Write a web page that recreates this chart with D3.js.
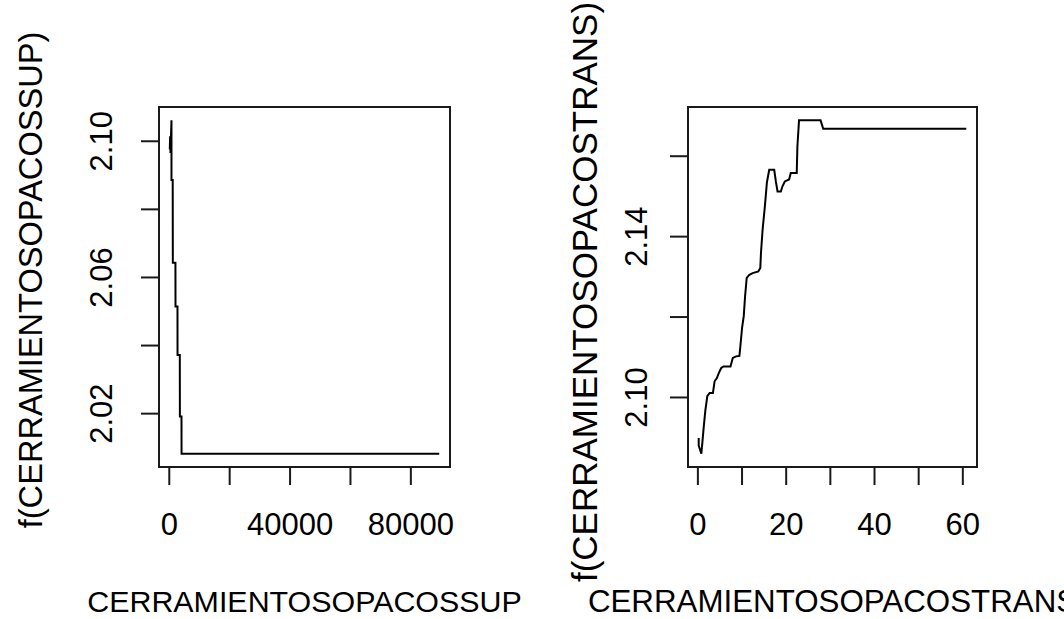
<!DOCTYPE html>
<html>
<head>
<meta charset="utf-8">
<script src="https://cdn.jsdelivr.net/npm/d3@7"></script>
<style>
  body { margin: 0; background: #fff; }
  svg { display: block; }
  text { font-family: "Liberation Sans", Arial, sans-serif; fill: #000; }
</style>
</head>
<body>
<svg id="chart" width="1064" height="619"></svg>
<script>
// Partial dependence of f() on CERRAMIENTOSOPACOSSUP
const supX = [330, 450, 560, 700, 890, 900, 1300, 1340, 2200, 2230, 2880, 2900, 3650, 3680, 4210, 4230, 89560];
const supY = [2.0975, 2.1013, 2.0964, 2.1005, 2.1060, 2.0885, 2.0885, 2.0642, 2.0642, 2.0513, 2.0513, 2.0371, 2.0371, 2.0190, 2.0190, 2.0081, 2.0081];

// Partial dependence of f() on CERRAMIENTOSOPACOSTRANS
const transX = [0.30, 0.30, 0.90, 1.12, 1.42, 1.80, 2.25, 2.77, 3.52, 3.90, 4.42, 4.87, 5.40, 5.92, 7.50, 8.02, 8.77, 9.52, 9.75, 10.12, 10.50, 10.80, 11.17, 11.77, 12.52, 13.80, 14.25, 14.40, 14.77, 15.30, 15.75, 16.27, 17.40, 17.77, 18.15, 18.90, 19.27, 19.80, 20.77, 21.15, 22.50, 22.65, 23.02, 27.90, 28.50, 60.90];
const transY = [2.0898, 2.0879, 2.0859, 2.0886, 2.0923, 2.0966, 2.1002, 2.1010, 2.1010, 2.1039, 2.1047, 2.1060, 2.1072, 2.1076, 2.1076, 2.1097, 2.1101, 2.1102, 2.1128, 2.1172, 2.1201, 2.1250, 2.1296, 2.1304, 2.1308, 2.1312, 2.1321, 2.1358, 2.1416, 2.1476, 2.1534, 2.1565, 2.1565, 2.1536, 2.1511, 2.1511, 2.1524, 2.1536, 2.1541, 2.1557, 2.1557, 2.1623, 2.1688, 2.1688, 2.1667, 2.1667];

// Axis ticks and the labels printed beside them ("" = tick without label)
const supXTicks = [0, 20000, 40000, 60000, 80000];
const supXLabels = ["0", "", "40000", "", "80000"];
const supYTicks = [2.02, 2.04, 2.06, 2.08, 2.10];
const supYLabels = ["2.02", "", "2.06", "", "2.10"];
const transXTicks = [0, 10, 20, 30, 40, 50, 60];
const transXLabels = ["0", "", "20", "", "40", "", "60"];
const transYTicks = [2.10, 2.12, 2.14, 2.16];
const transYLabels = ["2.10", "", "2.14", ""];

const xTitles = ["CERRAMIENTOSOPACOSSUP", "CERRAMIENTOSOPACOSTRANS"];
const yTitles = ["f(CERRAMIENTOSOPACOSSUP)", "f(CERRAMIENTOSOPACOSTRANS)"];

const svg = d3.select("#chart");
svg.append("rect").attr("width", 1064).attr("height", 619).attr("fill", "#fff");

const TICK_FONT = 31;
const TICK = 18;
const STROKE = "#1a1a1a";

// pad a data extent by 4% on each side
function padded(vals) {
  const [a, b] = d3.extent(vals);
  const p = (b - a) * 0.04;
  return [a - p, b + p];
}

function panel(cfg) {
  const { left, right, top, bottom, xs, ys, xTicks, xLabels, yTicks, yLabels,
          xTitle, yTitle, xTitleFont, yLabelX, yTitleX, yTitleY, yTitleFont } = cfg;
  const x = d3.scaleLinear().domain(padded(xs)).range([left, right]);
  const y = d3.scaleLinear().domain(padded(ys)).range([bottom, top]);
  const g = svg.append("g");

  // curve
  const pts = xs.map((v, i) => [v, ys[i]]);
  g.append("path")
    .attr("d", d3.line().x(d => x(d[0])).y(d => y(d[1]))(pts))
    .attr("fill", "none").attr("stroke", "#000").attr("stroke-width", 2);

  // bottom axis
  const xa = g.append("g").attr("transform", `translate(0,${bottom})`)
    .call(d3.axisBottom(x).tickValues(xTicks).tickSize(TICK).tickFormat((d, i) => xLabels[i]));
  xa.select(".domain").attr("d", `M${x(xTicks[0])},0H${x(xTicks[xTicks.length - 1])}`)
    .attr("stroke", STROKE).attr("stroke-width", 2);
  xa.selectAll(".tick line").attr("stroke", STROKE).attr("stroke-width", 2);
  xa.selectAll(".tick text")
    .attr("font-size", TICK_FONT).attr("font-family", "Liberation Sans, Arial, sans-serif")
    .attr("fill", "#000").attr("dy", null).attr("y", 535 - bottom);

  // left axis
  const ya = g.append("g").attr("transform", `translate(${left},0)`)
    .call(d3.axisLeft(y).tickValues(yTicks).tickSize(TICK).tickFormat((d, i) => yLabels[i]));
  ya.select(".domain").attr("d", `M0,${y(yTicks[0])}V${y(yTicks[yTicks.length - 1])}`)
    .attr("stroke", STROKE).attr("stroke-width", 2);
  ya.selectAll(".tick line").attr("stroke", STROKE).attr("stroke-width", 2);
  ya.selectAll(".tick text")
    .attr("font-size", TICK_FONT).attr("font-family", "Liberation Sans, Arial, sans-serif").attr("fill", "#000")
    .attr("x", null).attr("dy", null).attr("text-anchor", "middle")
    .attr("transform", `translate(${yLabelX - left},0) rotate(-90)`);

  // plot box
  g.append("rect").attr("x", left).attr("y", top).attr("width", right - left).attr("height", bottom - top)
    .attr("fill", "none").attr("stroke", STROKE).attr("stroke-width", 2);

  // axis titles
  g.append("text").attr("x", (left + right) / 2).attr("y", 612)
    .attr("text-anchor", "middle").attr("font-size", xTitleFont).text(xTitle);
  g.append("text")
    .attr("transform", `translate(${yTitleX},${yTitleY}) rotate(-90)`)
    .attr("text-anchor", "middle").attr("font-size", yTitleFont).text(yTitle);
}

panel({ left: 159, right: 450, top: 107, bottom: 467, xs: supX, ys: supY,
  xTicks: supXTicks, xLabels: supXLabels, yTicks: supYTicks, yLabels: supYLabels,
  xTitle: xTitles[0], yTitle: yTitles[0], xTitleFont: 30.4,
  yLabelX: 112, yTitleX: 42, yTitleY: 280, yTitleFont: 32.6 });

panel({ left: 688, right: 977, top: 107, bottom: 467, xs: transX, ys: transY,
  xTicks: transXTicks, xLabels: transXLabels, yTicks: transYTicks, yLabels: transYLabels,
  xTitle: xTitles[1], yTitle: yTitles[1], xTitleFont: 31.3,
  yLabelX: 647, yTitleX: 597, yTitleY: 292, yTitleFont: 35 });
</script>
</body>
</html>
